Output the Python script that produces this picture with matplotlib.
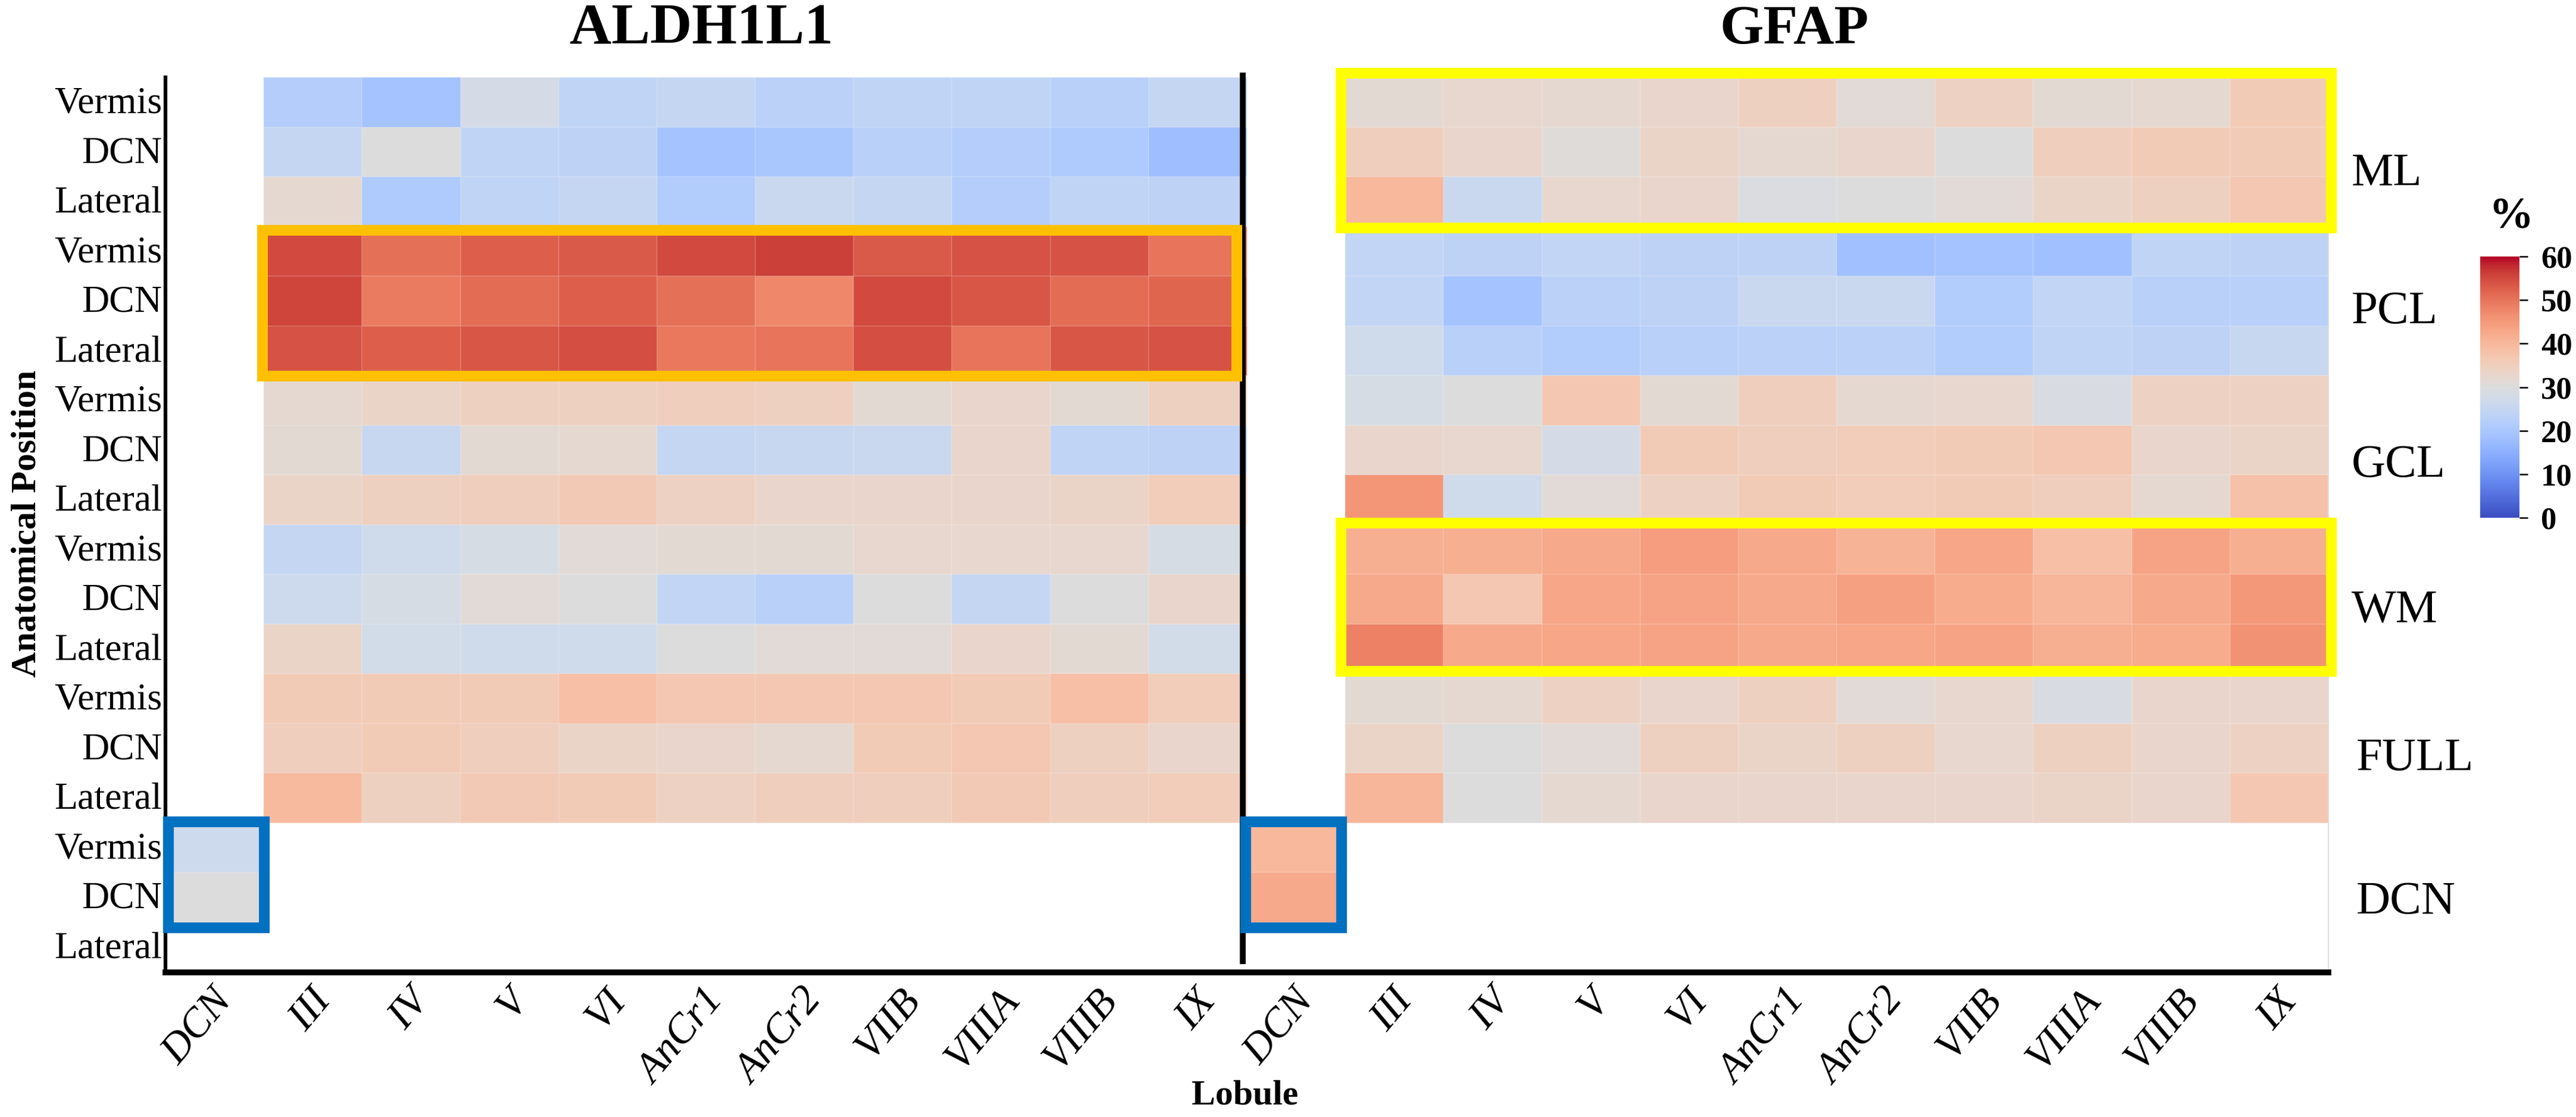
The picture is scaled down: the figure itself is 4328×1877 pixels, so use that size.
import numpy as np
import matplotlib
matplotlib.use("Agg")
import matplotlib.pyplot as plt
from matplotlib.patches import Rectangle
from matplotlib.transforms import ScaledTranslation

plt.rcParams['font.family'] = ['Liberation Serif', 'DejaVu Serif']

W, H = 4328, 1877
positions = ["Vermis", "DCN", "Lateral"]
layers = ["ML", "PCL", "GCL", "WM", "FULL", "DCN"]
lobules = ["DCN", "III", "IV", "V", "VI", "AnCr1", "AnCr2", "VIIB", "VIIIA", "VIIIB", "IX"]

aldh_dcn = [26.5, 30]
gfap_dcn = [40, 42.5]
aldh = [
 [22, 19, 28, 24, 25, 23, 24, 24, 22.5, 25],
 [25, 30, 24, 23.5, 19, 20, 22.5, 22, 21, 18],
 [32, 21, 24, 25, 21.5, 26, 25, 22, 24, 23.5],
 [55, 50.5, 52.5, 53, 55, 56, 53, 54, 54, 50],
 [55.5, 49, 51, 52.5, 50.5, 47.5, 55, 53.5, 51, 52],
 [54, 52.5, 53.5, 54.5, 49.5, 50, 54.5, 50, 53.5, 54],
 [32, 33.5, 34.5, 34.5, 35, 34.5, 31.5, 33, 31.5, 34.5],
 [31.5, 25.5, 31.5, 32, 25, 25.5, 26, 33, 24, 23.5],
 [33.5, 34.5, 35, 36.5, 34, 33, 33, 33, 33.5, 35.5],
 [25, 27, 28.5, 31, 31.5, 31.5, 32.5, 32.5, 32.5, 28.5],
 [26.5, 28.5, 31, 30, 24.5, 22.5, 30, 25, 30, 33],
 [33.5, 27.5, 27, 27, 30, 31, 31, 33, 31.5, 27.5],
 [36, 36, 36, 38.5, 37, 37, 37, 36, 38.5, 35.5],
 [35, 36, 35, 33.5, 33, 32, 36, 37, 34.5, 33],
 [39.5, 34.5, 36.5, 36, 34, 35, 35, 36.5, 35, 35.5],
]
gfap = [
 [31.5, 32.5, 32, 33, 34.5, 31, 34, 31.5, 32, 36],
 [35, 33, 30.5, 33.5, 32, 33, 30, 35, 36, 36],
 [40, 26, 32.5, 33, 29.5, 30, 31, 33.5, 34.5, 37],
 [24.5, 23.5, 24.5, 23.5, 23.5, 18.5, 19, 18.5, 24, 23.5],
 [24.5, 19, 23, 23.5, 26, 26, 21.5, 24.5, 22.5, 22.5],
 [27, 22.5, 21.5, 22.5, 23, 23, 21.5, 24, 23.5, 25.5],
 [28.5, 30, 37, 31.5, 35, 32, 32.5, 29, 34, 34],
 [33, 32.5, 28, 36, 35, 35.5, 36, 37, 33, 33.5],
 [45.5, 27, 31, 34, 36, 35.5, 36, 35, 32, 38],
 [41.5, 41.5, 42.5, 44.5, 42.5, 41, 43, 38.5, 43.5, 41.5],
 [42.5, 37, 43, 43.5, 42.5, 44, 42, 40.5, 42.5, 45],
 [48.5, 42.5, 43, 43.5, 42.5, 43, 43.5, 41.5, 42, 46],
 [31.5, 32, 34, 33, 34.5, 31, 32.5, 29, 33, 33],
 [33.5, 30, 31, 34.5, 33.5, 34.5, 32.5, 34.5, 33, 34],
 [40.5, 30, 32, 33, 33, 33, 33, 33.5, 33, 37],
]
cbar_ticks = [0, 10, 20, 30, 40, 50, 60]

# assemble the 18 x 22 grid from the named arrays
grid = np.full((18, 22), np.nan)
grid[:15, 1:11] = np.array(aldh)
grid[:15, 12:22] = np.array(gfap)
grid[15:17, 0] = aldh_dcn
grid[15:17, 11] = gfap_dcn

fig = plt.figure(figsize=(W / 100, H / 100), dpi=100, facecolor='white')
def px_axes(x0, y0, x1, y1):
    return fig.add_axes([x0 / W, 1 - y1 / H, (x1 - x0) / W, (y1 - y0) / H])

ax = px_axes(278, 130, 3912, 1633)
mesh = ax.pcolormesh(np.arange(23), np.arange(19), np.ma.masked_invalid(grid),
                     cmap='coolwarm', vmin=0, vmax=60,
                     edgecolors=(1, 1, 1, 0.12), linewidth=1.2)
ax.set_xlim(0, 22)
ax.set_ylim(18, 0)

ax.set_yticks(np.arange(18) + 0.5)
ax.set_yticklabels(positions * 6, fontsize=46)
ax.tick_params(axis='y', length=0, pad=4)
up = ScaledTranslation(0, 3 / 72, fig.dpi_scale_trans)
for lab in ax.get_yticklabels():
    lab.set_transform(lab.get_transform() + up)
ax.set_xticks([])
for i, lab in enumerate(lobules * 2):
    ax.annotate(lab, (i + 0.5, 18), xytext=(-4, -13), textcoords='offset points',
                rotation=50, rotation_mode='anchor', ha='right', va='top',
                fontsize=50, style='italic', annotation_clip=False)

ax.spines['top'].set_visible(False)
ax.spines['right'].set_color('#deded6')
ax.spines['right'].set_linewidth(1.5)
ax.spines['left'].set_linewidth(4.5)
ax.spines['bottom'].set_linewidth(7)
ax.spines['bottom'].set_position(('outward', 1))

# divider between the two panels
ax.plot([10.96, 10.96], [-0.1, 17.85], color='black', lw=7, clip_on=False, zorder=5,
        solid_capstyle='butt')

def box(x0, y0, x1, y1, color):
    ax.add_patch(Rectangle((x0, y0), x1 - x0, y1 - y0, fill=False, edgecolor=color,
                           linewidth=13, joinstyle='miter', clip_on=False, zorder=6))
box(0.987, 3.08, 10.90, 6.01, '#ffc000')
box(11.955, -0.08, 22.03, 3.03, '#ffff00')
box(11.955, 8.97, 22.03, 11.95, '#ffff00')
box(0.03, 14.98, 1.005, 17.11, '#0070c0')
box(10.99, 14.98, 11.96, 17.11, '#0070c0')

def t(x, y, s, **kw):
    fig.text(x / W, 1 - y / H, s, **kw)

t(1178, 50, "ALDH1L1", fontsize=70, fontweight='bold', ha='center', va='center')
t(3014, 50, "GFAP", fontsize=68, fontweight='bold', ha='center', va='center')
t(46, 880, "Anatomical Position", fontsize=43, fontweight='bold', rotation=90,
  ha='center', va='center')
t(2092, 1841, "Lobule", fontsize=43, fontweight='bold', ha='center', va='center')
for lab, y, dx in zip(layers, [292, 524, 782, 1026, 1275, 1516], [4, 4, 4, 4, 12, 12]):
    t(3947 + dx, y, lab, fontsize=57, ha='left', va='center')
t(4219, 365, "%", fontsize=54, fontweight='bold', ha='center', va='center')

cax = px_axes(4167, 431, 4233, 870)
cb = fig.colorbar(mesh, cax=cax, ticks=cbar_ticks)
cb.outline.set_visible(False)
cb.ax.tick_params(length=10, width=1.8, direction='out', pad=16, labelsize=38)
for tick, v in zip(cb.ax.yaxis.get_major_ticks(), cbar_ticks):
    tick.tick2line.set_color(mesh.cmap(mesh.norm(v)))
    tick.label2.set_fontweight('bold')

fig.savefig("out.png", dpi=100, facecolor='white')
